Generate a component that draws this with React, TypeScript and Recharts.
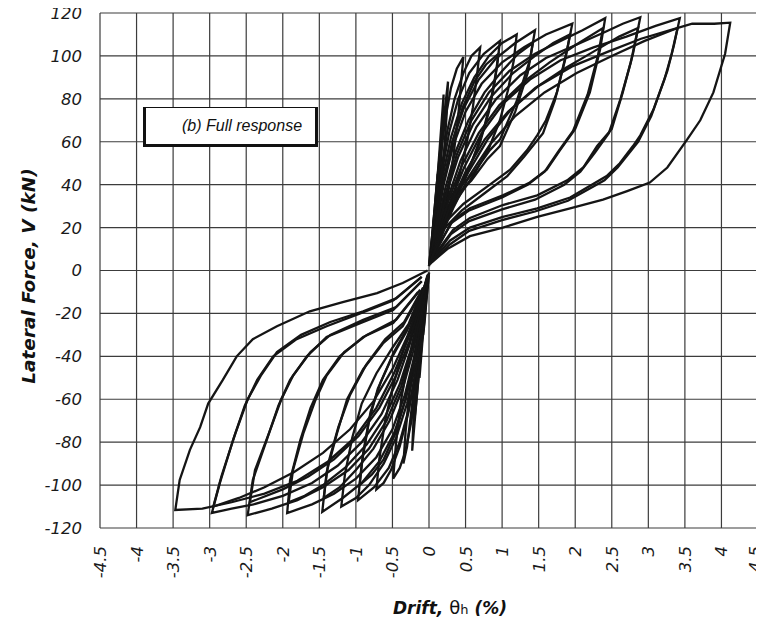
import React from "react";
import { LineChart, Line, XAxis, YAxis, CartesianGrid } from "recharts";

type Pt = [number, number];

const driftTicks = [-4.5, -4, -3.5, -3, -2.5, -2, -1.5, -1, -0.5, 0, 0.5, 1, 1.5, 2, 2.5, 3, 3.5, 4, 4.5];
const forceTicks = [-120, -100, -80, -60, -40, -20, 0, 20, 40, 60, 80, 100, 120];

// positive half cycles (drift %, force kN)
const pos01: Pt[] = [[0, 2], [0.03, 12], [0.06, 22], [0.08, 28], [0.07, 20], [0.05, 10], [0.02, 3]];
const pos02: Pt[] = [[0, 2], [0.04, 15], [0.08, 30], [0.12, 45], [0.11, 35], [0.08, 20], [0.04, 8], [0.01, 3]];
const pos03: Pt[] = [[0.01, 3], [0.05, 18], [0.1, 38], [0.15, 55], [0.17, 62], [0.15, 48], [0.12, 32], [0.08, 18], [0.03, 6]];
const pos04: Pt[] = [[0.01, 3], [0.06, 20], [0.12, 45], [0.17, 68], [0.2, 82], [0.19, 70], [0.17, 55], [0.13, 35], [0.08, 18], [0.03, 6]];
const pos05: Pt[] = [[0.02, 4], [0.08, 22], [0.14, 45], [0.2, 70], [0.26, 88], [0.24, 72], [0.2, 52], [0.15, 32], [0.08, 15], [0.03, 5]];
const pos06: Pt[] = [[0.02, 4], [0.08, 25], [0.15, 50], [0.22, 70], [0.3, 85], [0.38, 94], [0.47, 99.5], [0.44, 88], [0.4, 72], [0.34, 55], [0.27, 38], [0.18, 22], [0.08, 10], [0.02, 4]];
const pos07: Pt[] = [[0.02, 4], [0.08, 22], [0.16, 45], [0.25, 65], [0.35, 80], [0.47, 92], [0.58, 100], [0.7, 104], [0.66, 92], [0.6, 76], [0.52, 60], [0.42, 45], [0.3, 32], [0.18, 20], [0.06, 8]];
const pos08: Pt[] = [[0.02, 4], [0.08, 22], [0.17, 45], [0.28, 65], [0.4, 80], [0.55, 92], [0.75, 101], [0.97, 107], [0.93, 95], [0.85, 80], [0.75, 66], [0.6, 52], [0.45, 40], [0.3, 30], [0.15, 18], [0.04, 6]];
const pos09: Pt[] = [[0.02, 4], [0.09, 22], [0.18, 43], [0.3, 62], [0.45, 78], [0.62, 90], [0.82, 100], [1.0, 106], [1.2, 110], [1.16, 98], [1.08, 84], [0.97, 70], [0.82, 57], [0.62, 45], [0.4, 34], [0.2, 22], [0.05, 8]];
const pos10: Pt[] = [[0.02, 4], [0.1, 22], [0.2, 42], [0.32, 60], [0.48, 76], [0.68, 89], [0.92, 99], [1.18, 106], [1.45, 112], [1.38, 98], [1.2, 79], [0.97, 61], [0.83, 56], [0.6, 45], [0.33, 36], [0.11, 25], [0.03, 6]];
const pos11: Pt[] = [[0.02, 4], [0.1, 20], [0.2, 40], [0.33, 58], [0.5, 74], [0.72, 87], [1.0, 97], [1.3, 104], [1.6, 110], [1.96, 115], [1.89, 103], [1.75, 83], [1.6, 70], [1.48, 63], [1.34, 56], [1.11, 47], [0.79, 39], [0.47, 31], [0.25, 23.5], [0.05, 8]];
const pos12: Pt[] = [[0.02, 4], [0.11, 18], [0.23, 36], [0.38, 54], [0.58, 70], [0.82, 83], [1.1, 93], [1.45, 101], [1.8, 107], [2.1, 112], [2.41, 117.6], [2.34, 103], [2.2, 83], [2.0, 66], [1.79, 56], [1.61, 47], [1.38, 41], [1.01, 35], [0.56, 29], [0.33, 23.5], [0.05, 7]];
const pos13: Pt[] = [[0.02, 4], [0.12, 17], [0.26, 34], [0.43, 51], [0.65, 67], [0.92, 80], [1.25, 91], [1.6, 99], [2.0, 105], [2.4, 111], [2.65, 115], [2.89, 118], [2.79, 101], [2.65, 83], [2.5, 66], [2.3, 58], [2.11, 48], [1.89, 42], [1.48, 35], [1.01, 30.5], [0.56, 24.5], [0.33, 19], [0.05, 6]];
const pos14: Pt[] = [[0.02, 4], [0.13, 16], [0.29, 32], [0.48, 48], [0.72, 64], [1.02, 78], [1.38, 89], [1.8, 98], [2.25, 104], [2.7, 109], [3.1, 114], [3.43, 117.6], [3.35, 105], [3.26, 93], [3.07, 75], [2.89, 63], [2.79, 58], [2.61, 50], [2.43, 44], [1.93, 34], [1.48, 29], [1.01, 25], [0.56, 20], [0.29, 14], [0.05, 5]];
const pos15: Pt[] = [[0.02, 4], [0.14, 15], [0.32, 30], [0.54, 46], [0.8, 61], [1.12, 75], [1.5, 86], [1.95, 95], [2.45, 102], [2.9, 108], [3.3, 112], [3.6, 115], [3.9, 115], [4.12, 115.5], [4.05, 101], [3.89, 83], [3.71, 70], [3.53, 61], [3.26, 48], [3.02, 41], [2.71, 37], [2.38, 33], [1.93, 29], [1.48, 25], [1.01, 20], [0.56, 16], [0.25, 10], [0.01, 3]];

// repeated positive cycles at the same drift (lower peak force)
const posR1: Pt[] = [[0.03, 5], [0.1, 22], [0.2, 42], [0.32, 60], [0.46, 76], [0.62, 88], [0.78, 96], [0.95, 101], [0.9, 88], [0.82, 74], [0.7, 60], [0.55, 48], [0.4, 37], [0.22, 24], [0.05, 7]];
const posR2: Pt[] = [[0.03, 5], [0.11, 20], [0.22, 38], [0.36, 55], [0.54, 70], [0.76, 83], [1.0, 93], [1.22, 101], [1.42, 106], [1.35, 92], [1.18, 74], [0.97, 58], [0.8, 52], [0.58, 42], [0.32, 33], [0.1, 22], [0.02, 5]];
const posR3: Pt[] = [[0.03, 5], [0.12, 18], [0.24, 36], [0.4, 53], [0.6, 68], [0.85, 81], [1.15, 92], [1.45, 100], [1.7, 106], [1.93, 110], [1.86, 98], [1.72, 79], [1.56, 64], [1.3, 53], [1.07, 44], [0.76, 36], [0.45, 28], [0.22, 20], [0.05, 6]];
const posR4: Pt[] = [[0.03, 5], [0.13, 17], [0.27, 33], [0.45, 49], [0.68, 64], [0.96, 77], [1.3, 88], [1.65, 97], [2.0, 105], [2.38, 113], [2.31, 100], [2.17, 82], [1.97, 65], [1.76, 55], [1.58, 46], [1.35, 40], [1.0, 34], [0.55, 28], [0.3, 22], [0.05, 6]];
const posR5: Pt[] = [[0.03, 5], [0.14, 16], [0.3, 31], [0.5, 46], [0.76, 61], [1.08, 74], [1.45, 85], [1.85, 94], [2.25, 102], [2.6, 109], [2.86, 113], [2.76, 97], [2.62, 80], [2.46, 64], [2.27, 55], [2.07, 46], [1.85, 40], [1.45, 33], [1.0, 28.5], [0.55, 23], [0.3, 17], [0.05, 5]];
const posR6: Pt[] = [[0.03, 5], [0.15, 15], [0.33, 29], [0.55, 44], [0.84, 59], [1.18, 72], [1.58, 83], [2.02, 92], [2.5, 100], [2.95, 107], [3.4, 113], [3.32, 101], [3.22, 89], [3.04, 72], [2.86, 60], [2.58, 48], [2.4, 42], [1.9, 32.5], [1.45, 27.5], [1.0, 23.5], [0.55, 18.5], [0.28, 12], [0.04, 4]];

// negative half cycles
const neg01: Pt[] = [[0, -1], [-0.03, -12], [-0.06, -24], [-0.08, -30], [-0.07, -20], [-0.04, -9], [-0.01, -2]];
const neg02: Pt[] = [[0, -1], [-0.04, -15], [-0.09, -33], [-0.13, -50], [-0.12, -38], [-0.09, -22], [-0.05, -9], [-0.01, -2]];
const neg03: Pt[] = [[-0.01, -2], [-0.06, -20], [-0.12, -42], [-0.17, -60], [-0.2, -70], [-0.18, -55], [-0.14, -38], [-0.09, -20], [-0.03, -6]];
const neg04: Pt[] = [[-0.01, -2], [-0.07, -22], [-0.14, -48], [-0.19, -68], [-0.23, -84], [-0.21, -68], [-0.17, -50], [-0.12, -32], [-0.06, -14], [-0.01, -2]];
const neg05: Pt[] = [[-0.01, -2], [-0.09, -22], [-0.17, -45], [-0.25, -68], [-0.3, -82], [-0.35, -90], [-0.32, -75], [-0.27, -58], [-0.2, -40], [-0.12, -24], [-0.04, -8]];
const neg06: Pt[] = [[-0.01, -2], [-0.08, -25], [-0.16, -50], [-0.24, -70], [-0.32, -84], [-0.4, -92], [-0.49, -97], [-0.45, -80], [-0.38, -60], [-0.3, -45], [-0.2, -30], [-0.08, -12], [-0.01, -2]];
const neg07: Pt[] = [[-0.01, -2], [-0.09, -24], [-0.18, -47], [-0.28, -66], [-0.4, -82], [-0.52, -93], [-0.62, -99], [-0.72, -102], [-0.68, -88], [-0.6, -70], [-0.5, -55], [-0.38, -40], [-0.25, -28], [-0.1, -12], [-0.01, -2]];
const neg08: Pt[] = [[-0.02, -3], [-0.08, -22], [-0.17, -45], [-0.28, -65], [-0.4, -80], [-0.55, -92], [-0.75, -101], [-0.97, -107], [-0.92, -90], [-0.82, -70], [-0.7, -55], [-0.5, -40], [-0.3, -28], [-0.1, -12], [-0.02, -3]];
const neg09: Pt[] = [[-0.02, -3], [-0.09, -22], [-0.18, -43], [-0.3, -62], [-0.45, -78], [-0.62, -90], [-0.82, -100], [-1.0, -106], [-1.2, -110], [-1.15, -95], [-1.05, -78], [-0.92, -62], [-0.72, -48], [-0.5, -36], [-0.28, -25], [-0.08, -8]];
const neg10: Pt[] = [[-0.02, -3], [-0.1, -22], [-0.2, -42], [-0.32, -60], [-0.48, -76], [-0.68, -89], [-0.92, -99], [-1.18, -106], [-1.46, -112.5], [-1.4, -94], [-1.26, -76], [-1.12, -60], [-0.9, -46], [-0.63, -34], [-0.36, -26], [-0.1, -10]];
const neg11: Pt[] = [[-0.02, -3], [-0.1, -20], [-0.2, -40], [-0.33, -58], [-0.5, -74], [-0.72, -87], [-1.0, -97], [-1.3, -104], [-1.6, -109], [-1.94, -113], [-1.9, -97.6], [-1.76, -79], [-1.62, -64], [-1.45, -51], [-1.22, -40], [-0.9, -31], [-0.49, -24.5], [-0.15, -10]];
const neg12: Pt[] = [[-0.02, -3], [-0.11, -18], [-0.23, -36], [-0.38, -54], [-0.58, -70], [-0.82, -83], [-1.1, -93], [-1.45, -101], [-1.8, -107], [-2.15, -111], [-2.48, -114], [-2.41, -97.6], [-2.22, -79], [-2.06, -63], [-1.9, -51], [-1.67, -40], [-1.4, -31], [-0.94, -24.5], [-0.49, -18.4], [-0.1, -5]];
const neg13: Pt[] = [[-0.02, -3], [-0.12, -17], [-0.26, -34], [-0.43, -51], [-0.65, -67], [-0.92, -80], [-1.25, -91], [-1.6, -99], [-2.0, -105], [-2.4, -109], [-2.7, -111], [-2.97, -113], [-2.86, -99], [-2.68, -79], [-2.52, -63], [-2.35, -51], [-2.13, -40], [-1.81, -32], [-1.4, -26], [-0.94, -20], [-0.49, -14], [-0.1, -3]];
const neg14: Pt[] = [[-0.02, -2], [-0.13, -16], [-0.29, -32], [-0.48, -48], [-0.72, -64], [-1.02, -78], [-1.38, -89], [-1.8, -98], [-2.25, -104], [-2.7, -108], [-3.1, -111], [-3.47, -111.6], [-3.41, -97.6], [-3.27, -83.6], [-3.13, -73], [-3.02, -62], [-2.82, -51], [-2.63, -40], [-2.41, -32], [-2.08, -26], [-1.63, -19], [-1.18, -14.7], [-0.71, -10.5], [-0.36, -5.8], [-0.02, 0]];

// repeated negative cycles
const negR1: Pt[] = [[-0.02, -3], [-0.1, -22], [-0.2, -42], [-0.32, -60], [-0.46, -76], [-0.62, -88], [-0.78, -95], [-0.95, -100], [-0.9, -85], [-0.8, -66], [-0.66, -52], [-0.48, -38], [-0.28, -26], [-0.08, -10]];
const negR2: Pt[] = [[-0.02, -3], [-0.11, -20], [-0.22, -38], [-0.36, -55], [-0.54, -70], [-0.76, -83], [-1.0, -93], [-1.22, -101], [-1.44, -106], [-1.38, -90], [-1.24, -73], [-1.08, -58], [-0.86, -44], [-0.6, -32], [-0.34, -24], [-0.08, -8]];
const negR3: Pt[] = [[-0.02, -3], [-0.12, -18], [-0.24, -36], [-0.4, -53], [-0.6, -68], [-0.85, -81], [-1.15, -92], [-1.45, -100], [-1.7, -105], [-1.92, -108], [-1.86, -93], [-1.72, -76], [-1.56, -61], [-1.4, -49], [-1.16, -38], [-0.85, -30], [-0.45, -23], [-0.12, -9]];
const negR4: Pt[] = [[-0.02, -3], [-0.13, -17], [-0.27, -33], [-0.45, -49], [-0.68, -64], [-0.96, -77], [-1.3, -88], [-1.65, -96], [-2.0, -102], [-2.45, -108], [-2.38, -93], [-2.18, -75], [-2.02, -60], [-1.86, -49], [-1.62, -38], [-1.35, -30], [-0.9, -23], [-0.45, -17], [-0.1, -5]];
const negR5: Pt[] = [[-0.02, -3], [-0.14, -16], [-0.3, -31], [-0.5, -46], [-0.76, -61], [-1.08, -74], [-1.45, -85], [-1.85, -94], [-2.25, -101], [-2.6, -106], [-2.95, -110], [-2.84, -96], [-2.65, -76], [-2.48, -60], [-2.3, -49], [-2.08, -38], [-1.75, -30], [-1.35, -24], [-0.9, -19], [-0.45, -13], [-0.1, -3]];

const cycles: Pt[][] = [
  pos01, pos02, pos03, pos04, pos05, pos06, pos07, pos08, pos09, pos10, pos11, pos12, pos13, pos14, pos15,
  posR1, posR2, posR3, posR4, posR5, posR6,
  neg01, neg02, neg03, neg04, neg05, neg06, neg07, neg08, neg09, neg10, neg11, neg12, neg13, neg14,
  negR1, negR2, negR3, negR4, negR5,
];

const tickFont = { fontFamily: "DejaVu Sans", fontStyle: "italic" as const, fontSize: 16.5, fill: "#1a1a1a" };

const DriftTick = (props: any) => {
  const { x, y, payload } = props;
  const tx = Math.min(x, 755);
  return (
    <g transform={`translate(${tx},${y + 18}) rotate(-90)`}>
      <text x={0} y={0} dy="0.36em" textAnchor="end" {...tickFont}>
        {payload.value}
      </text>
    </g>
  );
};

const ForceTick = (props: any) => {
  const { x, y, payload } = props;
  return (
    <text x={x} y={y} dy="0.36em" textAnchor="end" {...tickFont}>
      {payload.value}
    </text>
  );
};

const titleFont = { fontFamily: "DejaVu Sans", fontStyle: "italic" as const, fontWeight: 700, fill: "#111" };

export default function App() {
  return (
    <div style={{ position: "relative", width: 764, height: 624, margin: "-8px 0 0 -8px" }}>
      <LineChart width={764} height={624} margin={{ top: 13, right: 6, bottom: 0, left: 0 }}>
        <CartesianGrid stroke="#3c3c3c" strokeWidth={1.2} />
        <XAxis
          type="number"
          dataKey="x"
          domain={[-4.5, 4.5]}
          ticks={driftTicks}
          interval={0}
          height={96}
          axisLine={false}
          tickLine={false}
          tickSize={0}
          tickMargin={0}
          tick={<DriftTick />}
          allowDataOverflow
          label={{
            content: () => (
              <text x={393} y={614} fontSize={17} {...titleFont}>
                Drift,{" "}
                <tspan fontWeight={400} fontStyle="normal" fontSize={18}>θ</tspan>
                <tspan fontWeight={400} fontStyle="normal" fontSize={13}>h</tspan>
                <tspan> (%)</tspan>
              </text>
            ),
          }}
        />
        <YAxis
          type="number"
          domain={[-120, 120]}
          ticks={forceTicks}
          interval={0}
          width={100}
          axisLine={false}
          tickLine={false}
          tickSize={0}
          tickMargin={18}
          tick={<ForceTick />}
          allowDataOverflow
          label={{
            content: () => (
              <text
                x={0}
                y={0}
                transform="translate(28,276) rotate(-90)"
                textAnchor="middle"
                dy="0.36em"
                fontSize={18.5}
                {...titleFont}
              >
                Lateral Force, V (kN)
              </text>
            ),
          }}
        />
        {cycles.map((c, i) => (
          <Line
            key={i}
            data={c.map(([x, y]) => ({ x, y }))}
            dataKey="y"
            type="linear"
            stroke="#151515"
            strokeWidth={2.3}
            dot={false}
            activeDot={false}
            isAnimationActive={false}
          />
        ))}
      </LineChart>
      <div
        style={{
          position: "absolute",
          left: 143,
          top: 107,
          width: 175,
          height: 40,
          boxSizing: "border-box",
          background: "#fff",
          borderTop: "1.5px solid #111",
          borderLeft: "3px solid #111",
          borderRight: "3px solid #111",
          borderBottom: "3px solid #111",
          fontFamily: "Liberation Sans",
          fontStyle: "italic",
          fontSize: 16,
          color: "#111",
          lineHeight: "36px",
          paddingLeft: 36,
          whiteSpace: "nowrap",
        }}
      >
        (b) Full response
      </div>
    </div>
  );
}
